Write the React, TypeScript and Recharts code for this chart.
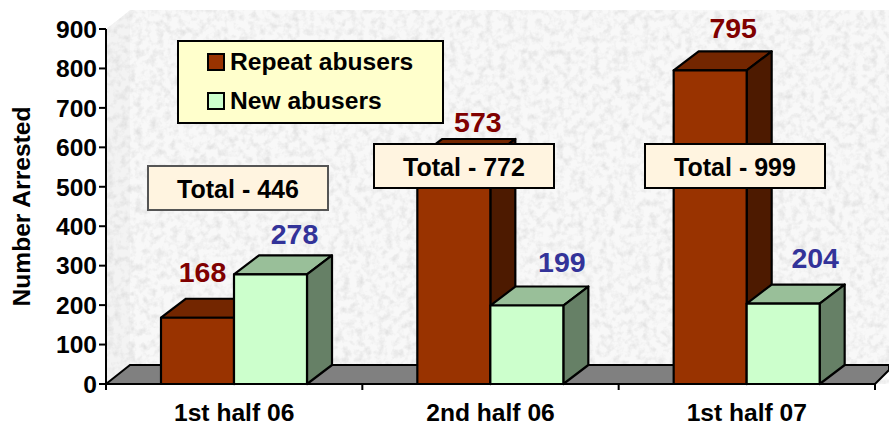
import { BarChart, Bar, XAxis, YAxis, Legend, LabelList } from "recharts";

const categories = ["1st half 06", "2nd half 06", "1st half 07"];
const repeatAbusers = [168, 573, 795];
const newAbusers = [278, 199, 204];
const totals = [446, 772, 999];
const yTicks = [0, 100, 200, 300, 400, 500, 600, 700, 800, 900];

const data = categories.map((name, i) => ({ name, repeat: repeatAbusers[i], fresh: newAbusers[i] }));

const FONT = "'Liberation Sans', Arial, sans-serif";
const DX = 25;
const DY = 19;
const TEXT_SIZE = 24.6;

// hand placed labels, the original slide has them dragged around
const repeatLabelShift = [[5, -46], [24, -36], [23, -42]];
const newLabelShift = [[24, -40], [35, -44], [32, -46]];
const totalBoxes = [
  { left: 147, top: 165 },
  { left: 373, top: 143 },
  { left: 644, top: 143 },
];

function Box3D({ x, y, width, height, fill, topFill, sideFill }: any) {
  return (
    <g stroke="#000" strokeWidth={2.2} strokeLinejoin="round">
      <polygon points={`${x},${y} ${x + DX},${y - DY} ${x + width + DX},${y - DY} ${x + width},${y}`} fill={topFill} />
      <polygon
        points={`${x + width},${y} ${x + width + DX},${y - DY} ${x + width + DX},${y + height - DY} ${x + width},${y + height}`}
        fill={sideFill}
      />
      <rect x={x} y={y} width={width} height={height} fill={fill} />
    </g>
  );
}

function valueLabel(color: string, shift: number[][]) {
  return ({ x, y, width, value, index }: any) => (
    <text
      x={x + width / 2 + shift[index][0]}
      y={y + shift[index][1]}
      textAnchor="middle"
      dominantBaseline="central"
      fontFamily={FONT}
      fontWeight="bold"
      fontSize={28.5}
      fill={color}
    >
      {value}
    </text>
  );
}

// ticks sit between the categories, the label stays in the middle
function CategoryTick({ x, y, payload, index, width }: any) {
  const band = width / categories.length;
  const left = x - band / 2;
  return (
    <g>
      <line x1={left} x2={left} y1={y - 7} y2={y} stroke="#000" strokeWidth={2} />
      {index === categories.length - 1 && <line x1={left + band} x2={left + band} y1={y - 7} y2={y} stroke="#000" strokeWidth={2} />}
      <text x={x} y={y + 22} textAnchor="middle" dominantBaseline="central" fontSize={TEXT_SIZE} fontWeight="bold" fill="#000">
        {payload.value}
      </text>
    </g>
  );
}

function LegendBox({ payload }: any) {
  return (
    <div
      style={{
        width: 267,
        height: 84,
        boxSizing: "border-box",
        background: "#ffffcc",
        border: "2px solid #000",
        fontFamily: FONT,
        fontWeight: "bold",
        fontSize: TEXT_SIZE,
        position: "relative",
      }}
    >
      {(payload || []).map((p: any, i: number) => (
        <div key={p.value} style={{ position: "absolute", left: 28, top: 7 + i * 39, height: 26, display: "flex", alignItems: "center" }}>
          <span style={{ width: 14, height: 14, border: "2px solid #000", background: p.color, marginRight: 5 }} />
          <span>{p.value}</span>
        </div>
      ))}
    </div>
  );
}

function Backdrop() {
  return (
    <svg width={889} height={423} style={{ position: "absolute", left: 0, top: 0 }}>
      <defs>
        <filter id="stone" x="0" y="0" width="100%" height="100%">
          <feTurbulence type="fractalNoise" baseFrequency="0.14" numOctaves={3} seed={4} />
          <feColorMatrix values="0 0 0 0 0.6  0 0 0 0 0.6  0 0 0 0 0.6  1.8 0 0 0 -0.76" />
        </filter>
      </defs>
      <rect x={130} y={10} width={759} height={355} fill="#f8f8f8" />
      <polygon points="106,29 130,10 130,365 106,384" fill="#f3f3f3" />
      <rect x={106} y={10} width={783} height={374} filter="url(#stone)" opacity={0.6} />
      <polygon points="0,0 106,0 106,29 130,10 889,10 889,0" fill="#fff" />
      <rect x={0} y={0} width={106} height={423} fill="#fff" />
      <polygon points="106,384 130,365 889,365 889,370 875,384" fill="#808080" stroke="#000" strokeWidth={2} />
    </svg>
  );
}

export default function App() {
  return (
    <div style={{ position: "absolute", left: 0, top: 0, width: 889, height: 423, overflow: "hidden", background: "#fff" }}>
      <Backdrop />
      <div style={{ position: "absolute", left: 0, top: 0 }}>
        <BarChart
          width={889}
          height={423}
          data={data}
          margin={{ top: 29, right: 14, bottom: 0, left: 0 }}
          barSize={73}
          barGap={0}
          style={{ fontFamily: FONT }}
        >
          <XAxis
            dataKey="name"
            height={39}
            interval={0}
            tickLine={false}
            tickMargin={0}
            axisLine={{ stroke: "#000", strokeWidth: 2 }}
            tick={<CategoryTick />}
          />
          <YAxis
            width={106}
            domain={[0, 900]}
            ticks={yTicks}
            interval={0}
            tickSize={7}
            axisLine={{ stroke: "#000", strokeWidth: 2 }}
            tickLine={{ stroke: "#000", strokeWidth: 2 }}
            tick={{ fontSize: TEXT_SIZE, fontWeight: "bold", fill: "#000" }}
            label={{
              value: "Number Arrested",
              angle: -90,
              position: "insideLeft",
              offset: 0,
              dx: 21,
              style: { fontSize: TEXT_SIZE, fontWeight: "bold", fill: "#000", textAnchor: "middle" },
            }}
          />
          <Legend
            layout="horizontal"
            verticalAlign="middle"
            itemSorter={null}
            content={<LegendBox />}
            wrapperStyle={{ left: 177, top: 40, width: 267, height: 84 }}
          />
          <Bar
            dataKey="repeat"
            name="Repeat abusers"
            fill="#993300"
            isAnimationActive={false}
            shape={(p: any) => <Box3D {...p} fill="#993300" topFill="#732600" sideFill="#4d1a00" />}
          >
            <LabelList dataKey="repeat" content={valueLabel("#800000", repeatLabelShift)} />
          </Bar>
          <Bar
            dataKey="fresh"
            name="New abusers"
            fill="#ccffcc"
            isAnimationActive={false}
            shape={(p: any) => <Box3D {...p} fill="#ccffcc" topFill="#99bf99" sideFill="#668066" />}
          >
            <LabelList dataKey="fresh" content={valueLabel("#333399", newLabelShift)} />
          </Bar>
        </BarChart>
      </div>
      {totals.map((t, i) => (
        <div
          key={t}
          style={{
            position: "absolute",
            left: totalBoxes[i].left,
            top: totalBoxes[i].top,
            width: 182,
            height: 46,
            boxSizing: "border-box",
            border: i === 0 ? "2px solid #555" : "2px solid #000",
            background: "#fff4e0",
            fontFamily: FONT,
            fontWeight: "bold",
            fontSize: 25,
            lineHeight: "44px",
            textAlign: "center",
          }}
        >
          Total - {t}
        </div>
      ))}
    </div>
  );
}
